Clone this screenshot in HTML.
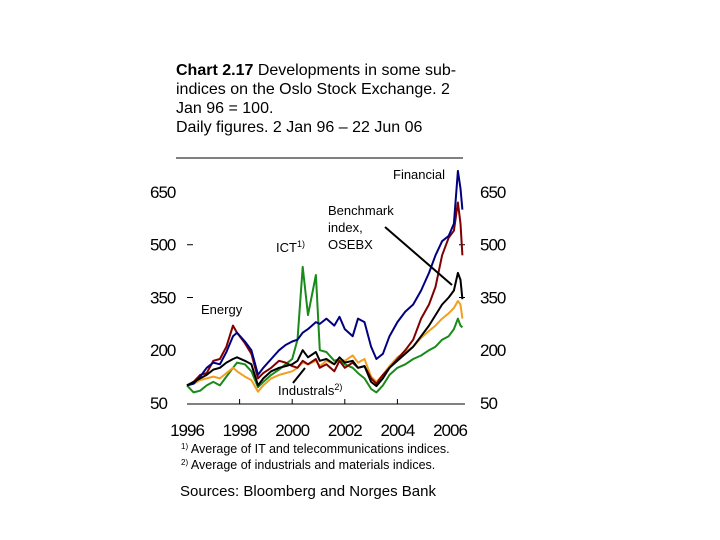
<!DOCTYPE html>
<html><head><meta charset="utf-8"><style>
body{margin:0;background:#fff;width:720px;height:540px;overflow:hidden;font-family:"Liberation Sans",Arial,sans-serif}
svg{position:absolute;left:0;top:0}
</style></head><body>
<svg width="720" height="540" xmlns="http://www.w3.org/2000/svg" font-family="Liberation Sans, Arial, sans-serif">
<g font-size="16" fill="#000">
<text x="176" y="75"><tspan font-weight="bold">Chart 2.17</tspan> Developments in some sub-</text>
<text x="176" y="94">indices on the Oslo Stock Exchange. 2</text>
<text x="176" y="113">Jan 96 = 100.</text>
<text x="176" y="132">Daily figures. 2 Jan 96 – 22 Jun 06</text>
</g>
<line x1="176" y1="158" x2="463" y2="158" stroke="#000" stroke-width="1"/>
<g id="axes"></g>
<g id="series"></g>
<g font-size="13" fill="#000">
<text x="393" y="179">Financial</text>
<text x="328" y="215">Benchmark</text>
<text x="328" y="232">index,</text>
<text x="328" y="249">OSEBX</text>
<text x="276" y="252">ICT<tspan font-size="9" dy="-5">1)</tspan></text>
<text x="201" y="314">Energy</text>
<text x="278" y="395">Industrals<tspan font-size="9" dy="-5">2)</tspan></text>
</g>
<line x1="385" y1="227" x2="452" y2="285" stroke="#000" stroke-width="2"/>
<line x1="293" y1="383" x2="305" y2="368" stroke="#000" stroke-width="2"/>
<g font-size="12.5" fill="#000">
<text x="181" y="453"><tspan font-size="8" dy="-4">1)</tspan><tspan dy="4"> Average of IT and telecommunications indices.</tspan></text>
<text x="181" y="469"><tspan font-size="8" dy="-4">2)</tspan><tspan dy="4">  Average of industrials and materials indices.</tspan></text>
</g>
<text x="180" y="496" font-size="15">Sources: Bloomberg and Norges Bank</text>
</svg>
<script>
const yTicks=[50,200,350,500,650];
const xTickLabels=[1996,1998,2000,2002,2004,2006];
const years=[1996.0,1996.25,1996.5,1996.75,1997.0,1997.25,1997.5,1997.75,1997.9,1998.2,1998.45,1998.7,1998.9,1999.2,1999.5,1999.75,2000.0,2000.2,2000.4,2000.6,2000.9,2001.05,2001.3,2001.6,2001.8,2002.0,2002.3,2002.5,2002.75,2003.0,2003.2,2003.45,2003.7,2004.0,2004.3,2004.6,2004.9,2005.2,2005.45,2005.7,2005.95,2006.15,2006.3,2006.4,2006.47];
const financial=[100,105,125,150,165,160,195,240,250,225,200,130,150,175,200,215,225,230,250,260,280,275,290,270,295,260,240,290,280,210,175,190,240,280,310,330,370,420,470,510,525,560,710,660,600];
const energy=[100,110,130,135,170,175,210,270,250,220,190,120,135,150,170,165,155,150,170,160,175,150,160,140,170,150,165,150,155,120,105,130,150,175,200,230,290,330,380,470,520,540,620,560,470];
const ict=[100,80,85,100,110,100,125,150,165,160,140,95,110,130,145,160,175,230,437,300,414,200,195,170,175,160,150,135,120,90,80,100,130,150,160,175,185,200,210,230,240,260,290,270,265];
const osebx=[100,110,120,130,145,150,165,175,180,170,160,100,120,140,150,155,160,170,200,180,195,170,175,160,180,165,170,150,155,110,98,120,150,170,190,210,240,270,300,330,350,370,420,400,345];
const industrials=[100,105,115,120,125,120,135,150,140,125,115,82,100,120,130,135,140,150,165,160,170,155,170,160,175,170,185,165,175,125,110,130,155,180,195,210,235,255,270,290,305,320,340,330,290];
const NS='http://www.w3.org/2000/svg';
function xs(t){return 187+(t-1996)*26.3;}
function ys(v){return 403-(v-50)*0.3517;}
const axes=document.getElementById('axes');
const ax=document.createElementNS(NS,'line');
ax.setAttribute('x1',187);ax.setAttribute('x2',465);ax.setAttribute('y1',404);ax.setAttribute('y2',404);ax.setAttribute('stroke','#000');


axes.appendChild(ax);
xTickLabels.forEach(function(yr){
  const t=document.createElementNS(NS,'text');
  t.setAttribute('x',xs(yr));t.setAttribute('y',436);t.setAttribute('text-anchor','middle');t.setAttribute('font-size','17');t.setAttribute('letter-spacing','-1');
  t.textContent=yr;
  
  
  axes.appendChild(t);
  if(yr>1996&&yr<2006){const tk=document.createElementNS(NS,'line');
  tk.setAttribute('x1',xs(yr));tk.setAttribute('x2',xs(yr));tk.setAttribute('y1',399);tk.setAttribute('y2',404);tk.setAttribute('stroke','#000');
  
  
  axes.appendChild(tk);}
});
yTicks.forEach(function(v){
  [[150,'start','y-tick-label-left'],[480,'start','y-tick-label-right']].forEach(function(s){
    const t=document.createElementNS(NS,'text');
    t.setAttribute('x',s[0]);t.setAttribute('y',ys(v)+6);t.setAttribute('font-size','17');t.setAttribute('letter-spacing','-1');
    t.textContent=v;
    
    
    axes.appendChild(t);
  });
  if(v===350||v===500){const d=document.createElementNS(NS,'line');
  d.setAttribute('x1',187);d.setAttribute('x2',193);d.setAttribute('y1',ys(v));d.setAttribute('y2',ys(v));d.setAttribute('stroke','#000');
  
  
  axes.appendChild(d);
  const d2=document.createElementNS(NS,'line');
  d2.setAttribute('x1',459);d2.setAttribute('x2',465);d2.setAttribute('y1',ys(v));d2.setAttribute('y2',ys(v));d2.setAttribute('stroke','#000');
  
  
  axes.appendChild(d2);}
});
const sg=document.getElementById('series');
[[ict,'#1a8a1a','line-ict'],[industrials,'#f0a020','line-industrials'],[energy,'#800000','line-energy'],[financial,'#000080','line-financial'],[osebx,'#000','line-osebx']].forEach(function(s){
  const p=document.createElementNS(NS,'polyline');
  p.setAttribute('points',s[0].map(function(v,i){return xs(years[i]).toFixed(1)+','+ys(v).toFixed(1);}).join(' '));
  p.setAttribute('fill','none');p.setAttribute('stroke',s[1]);p.setAttribute('stroke-width','2');p.setAttribute('stroke-linejoin','round');
  
  
  sg.appendChild(p);
});
</script>
</body></html>
